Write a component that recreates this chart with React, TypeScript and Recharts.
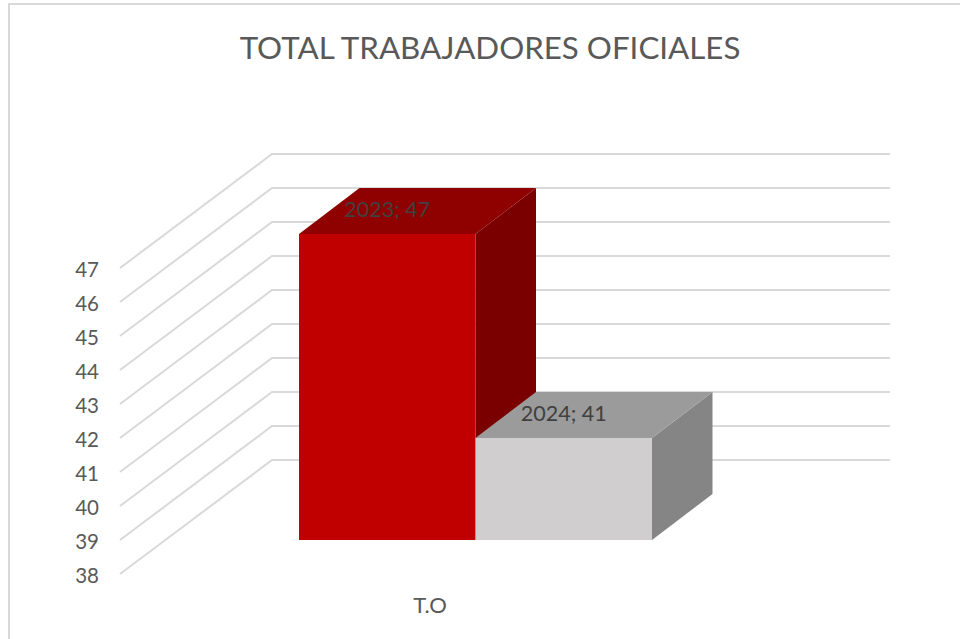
import React from 'react';
import { BarChart, Bar, XAxis, YAxis, CartesianGrid, LabelList } from 'recharts';

const categories = ['T.O'];
const years = ['2023', '2024'];
const totals = [47, 41];
const yTicks = [38, 39, 40, 41, 42, 43, 44, 45, 46, 47];

const data = categories.map(name => {
  const row: Record<string, string | number> = { name };
  years.forEach((y, i) => {
    row[y] = totals[i];
  });
  return row;
});

const GRID = '#d9d9d9';
const TEXT = '#595959';
const FONT = 'Lato, Carlito, sans-serif';

// fake 3D: floor depth of the wall, where the bars stand, and the bars' own depth
const WALL_DX = 152;
const WALL_DY = 114;
const BAR_SHIFT_X = 46;
const BAR_SHIFT_Y = 34;
const BAR_DX = 60.5;
const BAR_DY = 46;

const pts = (list: number[][]) => list.map(p => p.join(',')).join(' ');

const wallLine = (props: any) => {
  const { x1, x2, y1 } = props;
  const d = `M${x1},${y1} L${x1 + WALL_DX},${y1 - WALL_DY} L${x2 + WALL_DX},${y1 - WALL_DY}`;
  return <path key={`wall-${y1}`} d={d} fill="none" stroke={GRID} strokeWidth={2} />;
};

const cube = (front: string, top: string, side: string) => (props: any) => {
  const x = props.x + BAR_SHIFT_X;
  const y = props.y - BAR_SHIFT_Y;
  const { width: w, height: h } = props;
  return (
    <g>
      <polygon
        points={pts([[x + w, y], [x + w + BAR_DX, y - BAR_DY], [x + w + BAR_DX, y + h - BAR_DY], [x + w, y + h]])}
        fill={side}
      />
      <polygon
        points={pts([[x, y], [x + BAR_DX, y - BAR_DY], [x + w + BAR_DX, y - BAR_DY], [x + w, y]])}
        fill={top}
      />
      <rect x={x} y={y} width={w} height={h} fill={front} />
    </g>
  );
};

const yearLabel = (year: string) => (props: any) => {
  const { x, y, width, value } = props;
  return (
    <text
      x={x + width / 2 + BAR_SHIFT_X}
      y={y - BAR_SHIFT_Y - 25}
      textAnchor="middle"
      dominantBaseline="central"
      fill="#404040"
      fontSize={21.5}
      fontFamily={FONT}
    >
      {`${year}; ${value}`}
    </text>
  );
};

const faces = [
  ['#c00000', '#8f0000', '#7a0000'],
  ['#d0cece', '#9c9b9b', '#868585'],
];

export default function App() {
  return (
    <div style={{ position: 'absolute', left: 0, top: 0, width: 960, height: 639, overflow: 'hidden', background: '#fff' }}>
      <div
        style={{
          position: 'absolute',
          left: 8,
          top: 3,
          width: 960,
          height: 640,
          borderLeft: `2px solid ${GRID}`,
          borderTop: `2px solid ${GRID}`,
        }}
      />
      <div
        style={{
          position: 'absolute',
          left: 0,
          width: 980,
          top: 27,
          textAlign: 'center',
          color: TEXT,
          fontSize: 31.3,
          lineHeight: '40px',
          fontFamily: FONT,
        }}
      >
        TOTAL TRABAJADORES OFICIALES
      </div>
      <div style={{ position: 'absolute', left: 0, top: 0 }}>
        <BarChart
          width={960}
          height={639}
          data={data}
          barSize={176.5}
          barGap={0}
          margin={{ top: 268, right: 222, bottom: 35, left: 0 }}
        >
          <CartesianGrid vertical={false} horizontal={wallLine} />
          <XAxis
            dataKey="name"
            height={30}
            axisLine={false}
            tickLine={false}
            tickMargin={17}
            tick={{ fill: TEXT, fontSize: 22, fontFamily: FONT, dx: 1 }}
          />
          <YAxis
            width={120}
            domain={[38, 47]}
            ticks={yTicks}
            interval={0}
            axisLine={false}
            tickLine={false}
            tickSize={0}
            tickMargin={21}
            tick={{ fill: TEXT, fontSize: 20.5, fontFamily: FONT, dy: 2 }}
          />
          {years.map((y, i) => (
            <Bar
              key={y}
              dataKey={y}
              fill={faces[i][0]}
              shape={cube(faces[i][0], faces[i][1], faces[i][2])}
              isAnimationActive={false}
            >
              <LabelList dataKey={y} content={yearLabel(y)} />
            </Bar>
          ))}
        </BarChart>
      </div>
    </div>
  );
}
